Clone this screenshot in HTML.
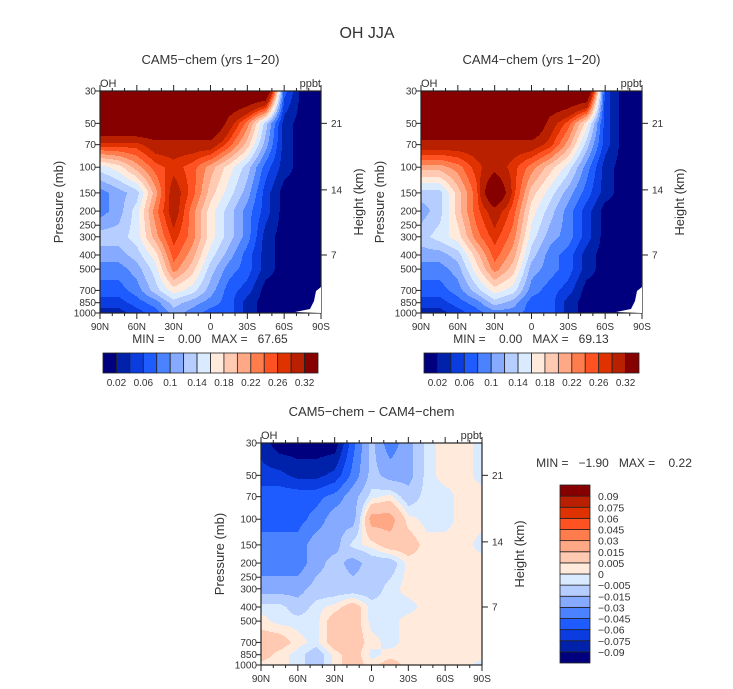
<!DOCTYPE html>
<html><head><meta charset="utf-8">
<style>
body{margin:0;background:#fff;}
#root{position:relative;width:733px;height:689px;overflow:hidden;font-family:"Liberation Sans",sans-serif;color:#222;}
svg{position:absolute;left:0;top:0;}
</style></head>
<body>
<div id="root">
<svg id="svg" width="733" height="689"></svg>
</div>
<script>
// ---- data ----
const lats = [90,75,60,45,30,15,0,-15,-30,-45,-60,-75,-90];
const levels = [30,50,70,100,150,200,300,400,500,700,850,1000];
const pTicks = [30,50,70,100,150,200,250,300,400,500,700,850,1000];
const latTicks = [90,60,30,0,-30,-60,-90];
const latTickLabels = ["90N","60N","30N","0","30S","60S","90S"];
const kmTicks = [21,14,7];
const kmPressure = [50,143,400];
const cam5 = [
[.4,.4,.4,.4,.4,.4,.4,.4,.4,.4,.07,.01,.01],
[.4,.4,.4,.4,.4,.4,.4,.3,.23,.13,.03,.01,.01],
[.27,.27,.27,.3,.3,.3,.3,.25,.19,.11,.03,.01,.01],
[.15,.17,.21,.25,.27,.25,.21,.17,.13,.07,.03,.01,.01],
[.09,.11,.13,.21,.3,.25,.19,.15,.11,.05,.01,.01,.01],
[.09,.11,.15,.23,.3,.23,.17,.13,.09,.05,.01,.01,.01],
[.13,.13,.15,.21,.27,.23,.17,.13,.09,.03,.01,.01,.01],
[.11,.11,.13,.17,.25,.21,.15,.11,.07,.03,.01,.01,.01],
[.09,.09,.11,.15,.23,.19,.13,.09,.07,.03,.01,.01,.01],
[.07,.07,.09,.13,.17,.15,.11,.07,.05,.01,.01,.01,.01],
[.05,.05,.07,.09,.13,.11,.09,.07,.03,.01,.01,.01,.01],
[.03,.03,.05,.07,.11,.09,.07,.07,.03,.01,.01,.01,.01]];
const cam4 = [
[.4,.4,.4,.4,.4,.4,.4,.4,.4,.4,.05,.01,.01],
[.4,.4,.4,.4,.4,.4,.4,.3,.25,.17,.05,.01,.01],
[.3,.3,.3,.3,.3,.3,.3,.27,.21,.13,.05,.01,.01],
[.21,.21,.23,.27,.3,.27,.23,.19,.15,.09,.03,.01,.01],
[.13,.13,.19,.25,.4,.27,.19,.15,.11,.07,.03,.01,.01],
[.11,.13,.19,.25,.3,.25,.17,.13,.09,.05,.01,.01,.01],
[.13,.15,.17,.23,.27,.23,.15,.11,.09,.05,.01,.01,.01],
[.11,.11,.13,.19,.25,.21,.13,.09,.07,.03,.01,.01,.01],
[.09,.09,.11,.17,.23,.19,.11,.09,.07,.03,.01,.01,.01],
[.07,.07,.09,.13,.17,.15,.09,.07,.05,.01,.01,.01,.01],
[.05,.05,.07,.09,.13,.11,.07,.07,.03,.01,.01,.01,.01],
[.03,.03,.05,.07,.09,.09,.07,.07,.03,.01,.01,.01,.01]];
const diff = [
[-.08,-.1,-.1,-.1,-.1,-.05,-.01,-.04,-.02,-.002,.002,.002,-.002],
[-.07,-.07,-.08,-.08,-.07,-.04,-.01,-.02,-.02,-.002,.002,.002,-.002],
[-.05,-.05,-.05,-.05,-.04,-.02,-.002,.002,-.01,-.002,-.002,.002,.002],
[-.05,-.05,-.05,-.04,-.02,-.02,.02,.02,.002,-.002,-.002,.002,.002],
[-.04,-.04,-.04,-.02,-.02,-.002,.002,.01,.01,.002,.002,.002,-.002],
[-.04,-.04,-.04,-.02,-.01,-.02,-.01,-.01,.002,.002,.002,.002,.002],
[-.02,-.02,-.02,-.01,-.01,-.01,-.01,-.002,.002,.002,.002,.002,.002],
[-.002,-.002,-.01,-.002,.002,.01,-.002,-.002,-.002,.002,.002,.002,.002],
[.002,-.002,-.002,-.002,.01,.01,-.002,-.002,.002,.002,.002,.002,.002],
[.01,.01,.002,-.002,.01,.01,.002,-.002,.002,.002,.002,.002,.002],
[.01,.002,-.002,-.01,.002,.01,-.002,.002,.002,.002,.002,.002,.002],
[.002,.002,-.002,-.01,.002,.01,.002,.01,.002,.002,.002,.002,-.002]];
const ohBounds = [0.02,0.04,0.06,0.08,0.1,0.12,0.14,0.16,0.18,0.2,0.22,0.24,0.26,0.28,0.32];
const ohLabels = ["0.02","0.06","0.1","0.14","0.18","0.22","0.26","0.32"];
const diffBounds = [-0.09,-0.075,-0.06,-0.045,-0.03,-0.015,-0.005,0,0.005,0.015,0.03,0.045,0.06,0.075,0.09];
const diffLabels = ["-0.09","-0.075","-0.06","-0.045","-0.03","-0.015","-0.005","0","0.005","0.015","0.03","0.045","0.06","0.075","0.09"];
const palette = ["#00007f","#0022aa","#0a3ce0","#1e5cff","#4a82ff","#86aaff","#b6ceff","#daeaff","#ffeadc","#ffc9b2","#ffa886","#ff7c4c","#ff5222","#e03200","#b82000","#870000"];

const NS="http://www.w3.org/2000/svg";
const svg=document.getElementById('svg');
function mk(tag,attrs,parent){const e=document.createElementNS(NS,tag);for(const k in attrs)e.setAttribute(k,attrs[k]);(parent||svg).appendChild(e);return e;}
function txt(s,x,y,size,anchor,name,rot){
 const e=mk('text',{x:x,y:y,'font-size':size,'text-anchor':anchor||'middle','font-family':'Liberation Sans, sans-serif',fill:'#333'});
 if(rot)e.setAttribute('transform','rotate(-90 '+x+' '+y+')');
 e.textContent=s;
 e.style.whiteSpace='pre';
 
 
 return e;}
function cls(v,b){let c=0;for(const x of b)if(v>x)c++;return c;}

function panel(id,L,T,W,H,data,bounds,title){
 const g=mk('g',{});
 
 
 const xs=lat=>L+(90-lat)/180*W;
 const ys=p=>T+Math.log(p/30)/Math.log(1000/30)*H;
 const lp=levels.map(p=>ys(p));
 const lx=lats.map(a=>xs(a));
 const step=1;
 for(let py=0;py<H;py+=step){
  const y=T+py+step/2;
  let r=0;while(r<levels.length-2&&lp[r+1]<y)r++;
  let fy=(y-lp[r])/(lp[r+1]-lp[r]);fy=Math.max(0,Math.min(1,fy));
  let run=null,runX=0;
  const flush=(endX)=>{
   if(run!==null&&run>=0){
    const rc=mk('rect',{x:L+runX,y:T+py,width:endX-runX+0.3,height:step+0.3,fill:palette[run]},g);
    
    
   }
  };
  for(let px=0;px<W;px+=step){
   const x=L+px+step/2;
   let k=0;while(k<lats.length-2&&lx[k+1]<x)k++;
   let fx=(x-lx[k])/(lx[k+1]-lx[k]);fx=Math.max(0,Math.min(1,fx));
   const v=data[r][k]*(1-fx)*(1-fy)+data[r][k+1]*fx*(1-fy)+data[r+1][k]*(1-fx)*fy+data[r+1][k+1]*fx*fy;
   const c=cls(v,bounds);
   if(c!==run){flush(px);run=c;runX=px;}
  }
  flush(W);
 }
 const fr=mk('rect',{x:L,y:T,width:W,height:H,fill:'none',stroke:'#222','stroke-width':1.2},g);
 
 
 for(let a=-90;a<=90;a+=10){
  const x=xs(a),major=(a%30===0);const len=major?6:3;
  mk('line',{x1:x,y1:T+H,x2:x,y2:T+H+len,stroke:'#222'},g);
  mk('line',{x1:x,y1:T,x2:x,y2:T-len,stroke:'#222'},g);
 }
 latTicks.forEach((a,i)=>txt(latTickLabels[i],xs(a),T+H+17,10,'middle','x-tick-label'));
 pTicks.forEach(p=>{const y=ys(p);mk('line',{x1:L,y1:y,x2:L-5,y2:y,stroke:'#222'},g);
   txt(String(p),L-4,y+3.5,10,'end','y-tick-label');});
 kmTicks.forEach((k,i)=>{const y=ys(kmPressure[i]);mk('line',{x1:L+W,y1:y,x2:L+W+6,y2:y,stroke:'#222'},g);
   txt(String(k),L+W+10,y+3.5,10,'start','height-tick-label');});
 txt('OH',L,T-4,11,'start','variable-label');
 txt('ppbt',L+W,T-4,11,'end','units-label');
 txt(title,L+W/2,T-27,13,'middle','panel-title');
 txt('Pressure (mb)',L-37,T+H/2,13,'middle','y-axis-title',true);
 txt('Height (km)',L+W+42,T+H/2,13,'middle','height-axis-title',true);
}
function hbar(L,T,W,H,labels,name){
 const n=16,bw=W/n;
 for(let i=0;i<n;i++){
  const r=mk('rect',{x:L+i*bw,y:T,width:bw,height:H,fill:palette[i],stroke:'#222','stroke-width':0.8});
  
  
 }
 labels.forEach((s,j)=>txt(s,L+(2*j+1)*bw,T+H+13,10,'middle',name+'-label'));
}
function vbar(L,T,W,H,labels){
 const n=16,bh=H/n;
 for(let i=0;i<n;i++){
  const r=mk('rect',{x:L,y:T+(n-1-i)*bh,width:W,height:bh,fill:palette[i],stroke:'#222','stroke-width':0.8});
  
  
 }
 labels.forEach((s,j)=>{const y=T+(n-1-j)*bh;txt(s.replace('-','\u2212'),L+W+8,y+4,10.5,'start','diff-colorbar-label');});
}
txt('OH JJA',367,38,16,'middle','figure-title');
panel('panel-cam5',100,91,221,222,cam5,ohBounds,'CAM5\u2212chem (yrs 1\u221220)');
panel('panel-cam4',421,91,221,222,cam4,ohBounds,'CAM4\u2212chem (yrs 1\u221220)');
panel('panel-diff',261,443,221,222,diff,diffBounds,'CAM5\u2212chem \u2212 CAM4\u2212chem');
[[100,91],[421,91]].forEach(([L,T])=>{
 const w=mk('path',{d:'M'+(L+221)+' '+(T+196)+' L'+(L+216)+' '+(T+200)+' L'+(L+214)+' '+(T+210)+' L'+(L+210)+' '+(T+218)+' L'+(L+195)+' '+(T+221)+' L'+(L+221)+' '+(T+222)+' Z',fill:'#fff'});
 
 
});
txt('MIN =    0.00   MAX =   67.65',210,343,12,'middle','min-max-cam5');
txt('MIN =    0.00   MAX =   69.13',531,343,12,'middle','min-max-cam4');
txt('MIN =   \u22121.90   MAX =    0.22',614,467,12,'middle','min-max-diff');
hbar(103,353,215,20,ohLabels,'cam5-colorbar');
hbar(424,353,215,20,ohLabels,'cam4-colorbar');
vbar(560,485,30,178,diffLabels);
</script>
</body></html>
